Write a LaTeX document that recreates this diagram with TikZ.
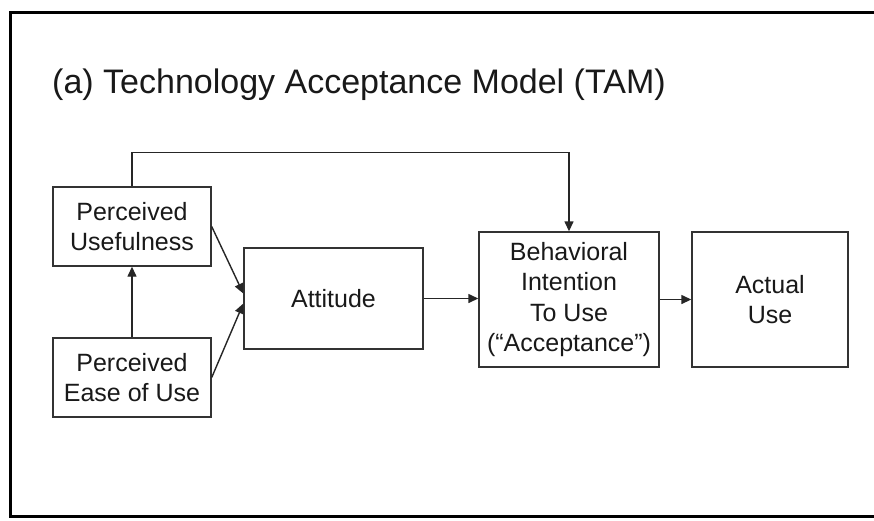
\documentclass[tikz,border=0pt]{standalone}
\usepackage{fontspec}
\setmainfont{Liberation Sans}
\usetikzlibrary{arrows.meta}
\begin{document}
\begin{tikzpicture}[x=1pt,y=-1pt,
  box/.style={draw=black!80, line width=1.4pt, text=black!90,
    font=\fontsize{25}{30.5}\selectfont, align=center, inner sep=0pt},
  conn/.style={draw=black!85, line width=1.4pt, -{Triangle[length=10pt,width=9pt]}},
]
\useasboundingbox (0,0) rectangle (874,520);
\fill[white] (0,0) rectangle (874,520);
\draw[line width=3pt, line join=miter] (874,12.5) -- (10.5,12.5) -- (10.5,516.5) -- (874,516.5);
\node[anchor=base west, font=\fontsize{34}{40}\selectfont, text=black!90, inner sep=0pt] (title) at (52,93) {(a) Technology Acceptance Model (TAM)};
\node[box, minimum width=158pt, minimum height=79pt] (pu) at (132,226.5) {Perceived\\Usefulness};
\node[box, minimum width=158pt, minimum height=79pt] (pe) at (132,377.5) {Perceived\\Ease of Use};
\node[box, minimum width=179pt, minimum height=101pt] (att) at (333.5,298.5) {Attitude};
\node[box, minimum width=180pt, minimum height=135pt] (bi) at (569,299.5) {Behavioral\\Intention\\To Use\\(“Acceptance”)};
\node[box, minimum width=156pt, minimum height=135pt] (au) at (770,299.5) {Actual\\Use};
\draw[conn] (pe.north) -- (pu.south);
\draw[conn] (pu.east) -- ([yshift=5pt]att.west);
\draw[conn] (pe.east) -- ([yshift=-5pt]att.west);
\draw[conn] (att.east) -- (att.east -| bi.west);
\draw[conn] (bi.east) -- (au.west);
\draw[conn] (pu.north) -- ++(0,-34) -| (bi.north);
\end{tikzpicture}
\end{document}
